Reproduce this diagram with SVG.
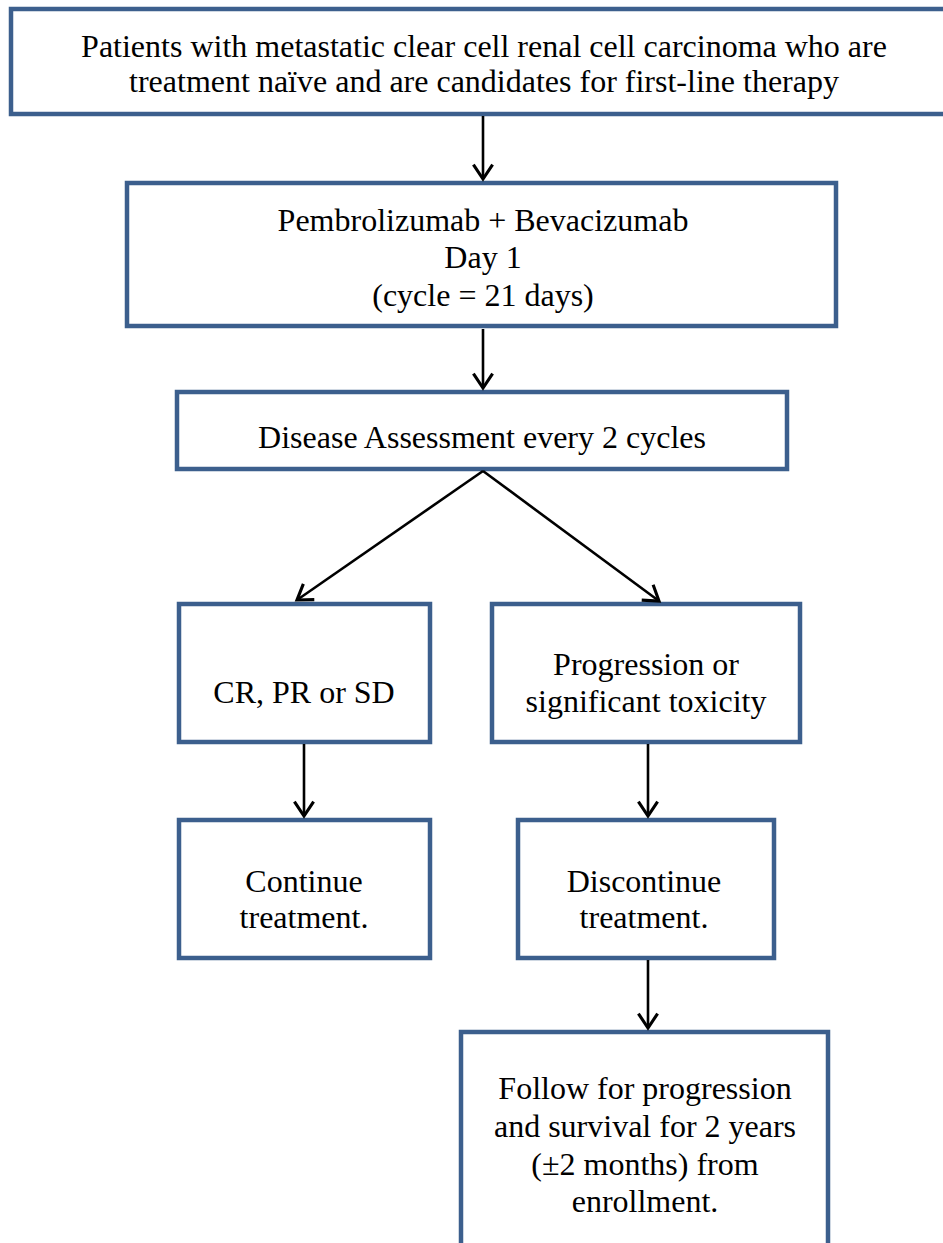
<svg xmlns="http://www.w3.org/2000/svg" width="943" height="1243" viewBox="0 0 943 1243">
<style>
.box{fill:#ffffff;stroke:#3c5f8d;stroke-width:4.5}
.t{font-family:"Liberation Serif","Times New Roman",serif;font-size:32px;fill:#000;text-anchor:middle}
.c{stroke:#000;stroke-width:2.6;fill:none}
</style>
<defs>
<marker id="ah" markerUnits="userSpaceOnUse" markerWidth="24" markerHeight="24" viewBox="-14 -10 16 20" refX="0" refY="0" orient="auto">
<path d="M-12,-8 L0,0 L-12,8" fill="none" stroke="#000" stroke-width="2.6"/>
</marker>
</defs>
<rect width="943" height="1243" fill="#fff"/>
<g id="n1"><rect class="box" x="11" y="9" width="945" height="105"/>
<text class="t" x="484" y="57">Patients with metastatic clear cell renal cell carcinoma who are</text>
<text class="t" x="484" y="92">treatment naïve and are candidates for first-line therapy</text></g>
<g id="n2"><rect class="box" x="127" y="183" width="709" height="143"/>
<text class="t" x="483" y="231">Pembrolizumab + Bevacizumab</text>
<text class="t" x="483" y="268">Day 1</text>
<text class="t" x="483" y="306">(cycle = 21 days)</text></g>
<g id="n3"><rect class="box" x="177" y="392" width="610" height="77"/>
<text class="t" x="482" y="448">Disease Assessment every 2 cycles</text></g>
<g id="n4"><rect class="box" x="179" y="604" width="251" height="138"/>
<text class="t" x="304" y="703">CR, PR or SD</text></g>
<g id="n5"><rect class="box" x="492" y="604" width="308" height="138"/>
<text class="t" x="646" y="675">Progression or</text>
<text class="t" x="646" y="712">significant toxicity</text></g>
<g id="n6"><rect class="box" x="179" y="820" width="251" height="138"/>
<text class="t" x="304" y="892">Continue</text>
<text class="t" x="304" y="928">treatment.</text></g>
<g id="n7"><rect class="box" x="518" y="820" width="256" height="138"/>
<text class="t" x="644" y="892">Discontinue</text>
<text class="t" x="644" y="928">treatment.</text></g>
<g id="n8"><rect class="box" x="461" y="1032" width="367" height="240"/>
<text class="t" x="645" y="1099">Follow for progression</text>
<text class="t" x="645" y="1137">and survival for 2 years</text>
<text class="t" x="645" y="1175">(±2 months) from</text>
<text class="t" x="645" y="1212">enrollment.</text></g>
<g id="connectors">
<line class="c" x1="483" y1="116" x2="483" y2="179" marker-end="url(#ah)"/>
<line class="c" x1="483" y1="329" x2="483" y2="388" marker-end="url(#ah)"/>
<line class="c" x1="483" y1="471" x2="297" y2="600" marker-end="url(#ah)"/>
<line class="c" x1="483" y1="471" x2="659" y2="601" marker-end="url(#ah)"/>
<line class="c" x1="304" y1="744" x2="304" y2="816" marker-end="url(#ah)"/>
<line class="c" x1="648" y1="744" x2="648" y2="816" marker-end="url(#ah)"/>
<line class="c" x1="648" y1="960" x2="648" y2="1028" marker-end="url(#ah)"/>
</g>
</svg>
